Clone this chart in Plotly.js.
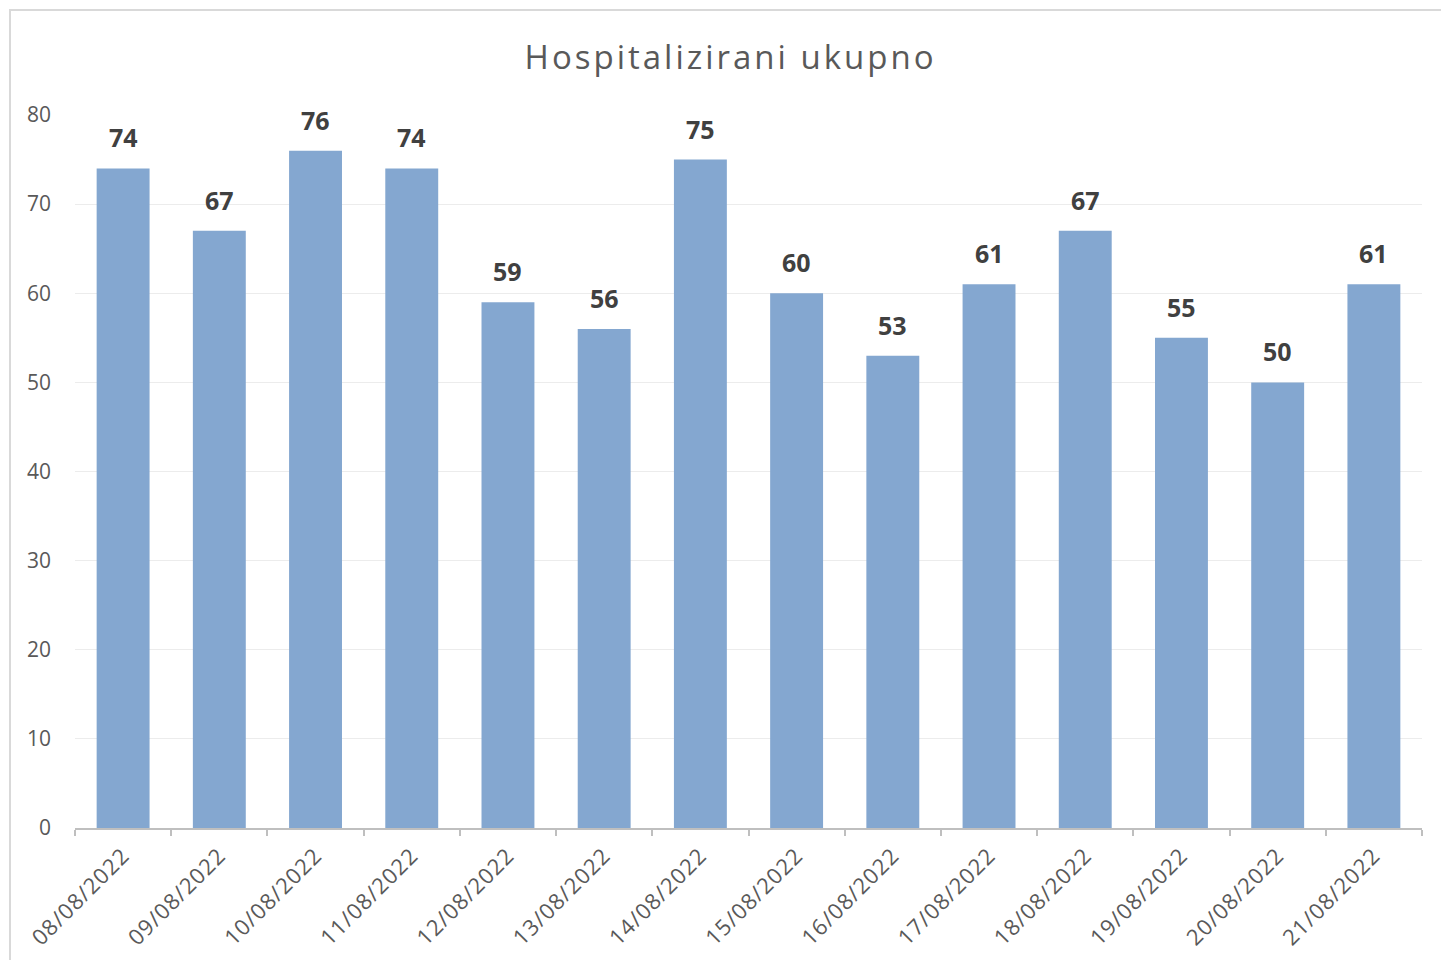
<!DOCTYPE html>
<html>
<head>
<meta charset="utf-8">
<script src="https://cdn.plot.ly/plotly-3.0.1.min.js"></script>
<style>
  html, body { margin: 0; padding: 0; background: #fff; overflow: hidden; }
  #chart { width: 1441px; height: 960px; }
  #frame { position: absolute; left: 9px; top: 9px; width: 1500px; height: 1000px;
           border: 2px solid #d9d9d9; pointer-events: none; box-sizing: border-box; }
  .gtitle { letter-spacing: 3px; }
  .xtick text { letter-spacing: 1px; }
</style>
</head>
<body>
<div id="chart"></div>
<div id="frame"></div>
<script>
const dates = ["08/08/2022","09/08/2022","10/08/2022","11/08/2022","12/08/2022","13/08/2022","14/08/2022",
               "15/08/2022","16/08/2022","17/08/2022","18/08/2022","19/08/2022","20/08/2022","21/08/2022"];
const hospitalized = [74, 67, 76, 74, 59, 56, 75, 60, 53, 61, 67, 55, 50, 61];
const yTicks = [0, 10, 20, 30, 40, 50, 60, 70, 80];

const trace = {
  type: 'bar',
  x: dates,
  y: hospitalized,
  marker: { color: '#84a7d0' },
  hoverinfo: 'x+y'
};

const labels = dates.map((d, i) => ({
  x: d, y: hospitalized[i], xref: 'x', yref: 'y',
  text: String(hospitalized[i]),
  showarrow: false, yanchor: 'bottom', yshift: 12,
  font: { family: 'Open Sans', size: 25, color: '#404040', weight: 'bold' }
}));

const layout = {
  width: 1441, height: 960,
  margin: { l: 75, r: 19, t: 115, b: 132 },
  paper_bgcolor: '#ffffff', plot_bgcolor: '#ffffff',
  bargap: 0.45,
  showlegend: false,
  annotations: labels,
  title: {
    text: 'Hospitalizirani ukupno',
    x: 0.507, xanchor: 'center',
    y: 0.94, yanchor: 'middle',
    font: { family: 'Open Sans', size: 33, color: '#595959' }
  },
  xaxis: {
    type: 'category',
    tickangle: -45,
    ticks: 'outside', tickson: 'boundaries', ticklen: 6, tickwidth: 2, tickcolor: '#bfbfbf',
    showline: true, linecolor: '#bfbfbf', linewidth: 2,
    showgrid: false,
    tickfont: { family: 'Open Sans', size: 22, color: '#595959' },
    ticklabelstandoff: 4,
    automargin: false
  },
  yaxis: {
    range: [0, 80],
    tickvals: yTicks,
    showline: false, zeroline: false,
    showgrid: true, gridcolor: '#ececec', gridwidth: 1,
    tickfont: { family: 'Open Sans', size: 21, color: '#595959' },
    ticks: '', ticklabelstandoff: 23,
    automargin: false
  }
};

Plotly.newPlot('chart', [trace], layout, { displayModeBar: false, staticPlot: true });
</script>
</body>
</html>
